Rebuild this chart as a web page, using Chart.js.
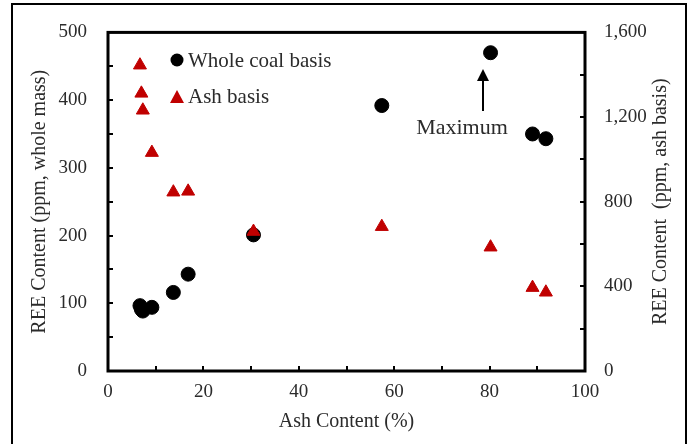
<!DOCTYPE html>
<html>
<head>
<meta charset="utf-8">
<script src="https://cdn.jsdelivr.net/npm/chart.js@4/dist/chart.umd.min.js"></script>
<style>
  html, body { margin: 0; padding: 0; background: #fff; }
  #wrap { width: 691px; height: 444px; position: relative; }
</style>
</head>
<body>
<div id="wrap"><canvas id="reeChart"></canvas></div>
<script>
var black = "0, 0, 0"
var red = "192, 0, 0"
var textColor = "#2b2b2b"
var serif = "'Liberation Serif', 'Times New Roman', serif"

// ash content (%) of each sample
var ashContent = [6.7, 7.0, 7.3, 9.2, 13.7, 16.8, 30.5, 57.4, 80.2, 89.0, 91.8];
// REE, ppm whole coal basis (left axis)
var reeWhole = [96.5, 91, 88.5, 94, 116, 143, 201, 392, 470, 350, 343];
// REE, ppm ash basis (right axis)
var reeAsh = [1445, 1312, 1232, 1032, 845, 849, 659, 682, 585, 394, 372];

var legendLabels = ['Whole coal basis', 'Ash basis'];
var maxLabel = 'Maximum';
var rightTitle = 'REE Content  (ppm, ash basis)';

function toPoints(xs, ys) {
    var pts = [];
    for (var i = 0; i < xs.length; i++) pts.push({ x: xs[i], y: ys[i] });
    return pts;
}

// frame, inward tick marks, legend, right title and the "Maximum" arrow
var decorations = {
    id: 'decorations',
    beforeDraw: function (chart) {
        var ctx = chart.ctx;
        ctx.save();
        ctx.strokeStyle = '#000';
        ctx.lineWidth = 2;
        ctx.strokeRect(12, 4, 674, 460);
        ctx.restore();
    },
    afterDraw: function (chart) {
        var ctx = chart.ctx;
        var a = chart.chartArea;
        var sx = chart.scales.x, sy = chart.scales.y, sy2 = chart.scales.y2;
        ctx.save();
        ctx.strokeStyle = '#000';
        ctx.lineWidth = 2;
        var v, p;
        for (v = 50; v < 500; v += 50) {
            p = Math.round(sy.getPixelForValue(v));
            ctx.beginPath(); ctx.moveTo(a.left, p); ctx.lineTo(a.left + 5, p); ctx.stroke();
        }
        for (v = 200; v < 1600; v += 200) {
            p = Math.round(sy2.getPixelForValue(v));
            ctx.beginPath(); ctx.moveTo(a.right, p); ctx.lineTo(a.right - 5, p); ctx.stroke();
        }
        for (v = 10; v < 100; v += 10) {
            p = Math.round(sx.getPixelForValue(v));
            ctx.beginPath(); ctx.moveTo(p, a.bottom); ctx.lineTo(p, a.bottom - 5); ctx.stroke();
        }
        ctx.lineWidth = 3;
        ctx.strokeRect(a.left, a.top, a.right - a.left, a.bottom - a.top);

        // legend
        ctx.font = '21px ' + serif;
        ctx.textBaseline = 'middle';
        ctx.textAlign = 'left';
        ctx.fillStyle = 'rgb(' + black + ')';
        ctx.beginPath(); ctx.arc(177, 60, 6.5, 0, Math.PI * 2); ctx.fill();
        ctx.fillStyle = 'rgb(' + red + ')';
        ctx.beginPath();
        ctx.moveTo(177, 90); ctx.lineTo(184, 103); ctx.lineTo(170, 103); ctx.closePath(); ctx.fill();
        ctx.fillStyle = textColor;
        ctx.fillText(legendLabels[0], 188, 61);
        ctx.fillText(legendLabels[1], 188, 97);

        // Maximum arrow
        var ax = Math.round(sx.getPixelForValue(80.2)) - 8;
        ctx.strokeStyle = '#000';
        ctx.fillStyle = '#000';
        ctx.lineWidth = 2;
        ctx.beginPath(); ctx.moveTo(ax, 111); ctx.lineTo(ax, 78); ctx.stroke();
        ctx.beginPath(); ctx.moveTo(ax, 69); ctx.lineTo(ax + 6, 81); ctx.lineTo(ax - 6, 81); ctx.closePath(); ctx.fill();
        ctx.fillStyle = textColor;
        ctx.textAlign = 'center';
        ctx.font = '22px ' + serif;
        ctx.fillText(maxLabel, 462, 128);

        // right axis title, reading bottom to top
        ctx.font = '20px ' + serif;
        ctx.translate(661, (a.top + a.bottom) / 2);
        ctx.rotate(-Math.PI / 2);
        ctx.fillText(rightTitle, 0, 0);
        ctx.restore();
    }
};

var reeChartElem = document.getElementById('reeChart').getContext('2d');

var reeChart = new Chart(reeChartElem, {
    type: 'scatter',
    data: {
        datasets: [{
            label: 'Ash basis',
            data: toPoints(ashContent, reeAsh),
            yAxisID: 'y2',
            pointStyle: 'triangle',
            pointRadius: 7.5,
            pointHoverRadius: 7.5,
            backgroundColor: 'rgba(' + red + ', 1)',
            borderColor: 'rgba(' + red + ', 1)',
            borderWidth: 1
        }, {
            label: 'Whole coal basis',
            data: toPoints(ashContent, reeWhole),
            yAxisID: 'y',
            pointStyle: 'circle',
            pointRadius: 7,
            pointHoverRadius: 7,
            backgroundColor: 'rgba(' + black + ', 1)',
            borderColor: 'rgba(' + black + ', 1)',
            borderWidth: 1
        }]
    },
    options: {
        responsive: true,
        maintainAspectRatio: false,
        animation: false,
        layout: { padding: { top: 28, left: 0, right: 0, bottom: 0 } },
        plugins: {
            legend: { display: false },
            tooltip: { enabled: false }
        },
        scales: {
            x: {
                type: 'linear',
                min: 0, max: 100,
                grid: { display: false, drawTicks: false },
                border: { display: false },
                ticks: { stepSize: 20, padding: 10, color: textColor, font: { family: serif, size: 19 } },
                title: { display: true, text: 'Ash Content (%)', color: textColor, font: { family: serif, size: 20 }, padding: { top: 0, bottom: 10 } },
                afterFit: function (s) { s.height = 73; }
            },
            y: {
                position: 'left',
                min: 0, max: 500,
                grid: { display: false, drawTicks: false },
                border: { display: false },
                ticks: { stepSize: 100, padding: 21, color: textColor, font: { family: serif, size: 19 } },
                title: { display: true, text: 'REE Content (ppm, whole mass)', color: textColor, font: { family: serif, size: 20 }, padding: { top: 28, bottom: 0 } },
                afterFit: function (s) { s.width = 108; }
            },
            y2: {
                position: 'right',
                min: 0, max: 1600,
                grid: { display: false, drawTicks: false },
                border: { display: false },
                ticks: { stepSize: 400, padding: 19, color: textColor, font: { family: serif, size: 19 } },
                title: { display: false },
                afterFit: function (s) { s.width = 106; }
            }
        }
    },
    plugins: [decorations]
});
</script>
</body>
</html>
